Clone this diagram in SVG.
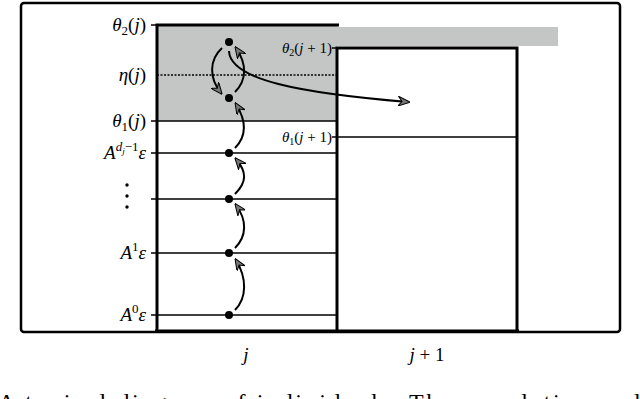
<svg xmlns="http://www.w3.org/2000/svg" width="640" height="399" viewBox="0 0 640 399">
<style>
.lbl{font-family:"Liberation Serif",serif;font-style:italic;font-size:19px;fill:#000}
.sm{font-family:"Liberation Serif",serif;font-style:italic;font-size:15px;fill:#000}
.up{font-style:normal}
.thin{stroke:#000;stroke-width:1.5;fill:none}
.thick{stroke:#000;stroke-width:3;fill:none}
.arr{stroke:#000;stroke-width:2;fill:none;marker-end:url(#ah)}
</style>
<defs>
<marker id="ah" viewBox="0 0 12 10" refX="10" refY="5" markerWidth="12" markerHeight="10" markerUnits="userSpaceOnUse" orient="auto">
<path d="M0,0 L12,5 L0,10 L4,5 z" fill="#777" stroke="#000" stroke-width="1"/>
</marker>
</defs>
<rect x="0" y="0" width="640" height="399" fill="#fff"/>
<g id="frame">
<rect x="21" y="3" width="599" height="329" rx="3" fill="none" stroke="#000" stroke-width="2.5"/>
</g>
<g id="column-j">
<rect x="157" y="25" width="180" height="96" fill="#c4c6c6"/>
<line class="thin" x1="157" y1="121" x2="337" y2="121"/>
<line class="thin" x1="157" y1="153" x2="337" y2="153"/>
<line class="thin" x1="157" y1="199" x2="337" y2="199"/>
<line class="thin" x1="157" y1="253" x2="337" y2="253"/>
<line class="thin" x1="157" y1="315" x2="337" y2="315"/>
<line x1="157" y1="75" x2="337" y2="75" stroke="#000" stroke-width="1.5" stroke-dasharray="2,1.5"/>
<path class="thick" d="M157,332 L157,25 L339,25"/>
<line class="thin" x1="151" y1="25" x2="157" y2="25"/>
<line class="thin" x1="151" y1="121" x2="157" y2="121"/>
<line class="thin" x1="151" y1="153" x2="157" y2="153"/>
<line class="thin" x1="151" y1="199" x2="157" y2="199"/>
<line class="thin" x1="151" y1="253" x2="157" y2="253"/>
<line class="thin" x1="151" y1="315" x2="157" y2="315"/>
</g>
<g id="column-j1">
<rect x="337" y="27" width="221" height="19" fill="#c4c6c6"/>
<line class="thin" x1="337" y1="137" x2="517" y2="137"/>
<path class="thick" d="M337,332 L337,48 L517,48 L517,332"/>
<line class="thick" x1="155" y1="331" x2="519" y2="331"/>
<line class="thin" x1="332" y1="48" x2="337" y2="48"/>
<line class="thin" x1="332" y1="137" x2="337" y2="137"/>
</g>
<g id="labels">
<text class="lbl" x="146" y="31" text-anchor="end">θ<tspan font-size="13" dy="4" class="up">2</tspan><tspan dy="-4" class="up">(</tspan>j<tspan class="up">)</tspan></text>
<text class="lbl" x="146" y="81" text-anchor="end">η<tspan class="up">(</tspan>j<tspan class="up">)</tspan></text>
<text class="lbl" x="146" y="127" text-anchor="end">θ<tspan font-size="13" dy="4" class="up">1</tspan><tspan dy="-4" class="up">(</tspan>j<tspan class="up">)</tspan></text>
<text class="lbl" x="146" y="159" text-anchor="end">A<tspan font-size="13" dy="-8">d</tspan><tspan font-size="9" dy="3">j</tspan><tspan font-size="13" dy="-3" class="up">−1</tspan><tspan dy="8">ε</tspan></text>
<text class="lbl" x="146" y="259" text-anchor="end">A<tspan font-size="13" dy="-8" class="up">1</tspan><tspan dy="8">ε</tspan></text>
<text class="lbl" x="146" y="321" text-anchor="end">A<tspan font-size="13" dy="-8" class="up">0</tspan><tspan dy="8">ε</tspan></text>
<circle cx="127" cy="185" r="1.7" fill="#000"/>
<circle cx="127" cy="196" r="1.7" fill="#000"/>
<circle cx="127" cy="207" r="1.7" fill="#000"/>
<text class="sm" x="332" y="53" text-anchor="end">θ<tspan font-size="10" dy="3" class="up">2</tspan><tspan dy="-3" class="up">(</tspan>j<tspan class="up"> + 1)</tspan></text>
<text class="sm" x="332" y="142" text-anchor="end">θ<tspan font-size="10" dy="3" class="up">1</tspan><tspan dy="-3" class="up">(</tspan>j<tspan class="up"> + 1)</tspan></text>
<text class="lbl" x="246" y="361" text-anchor="middle" font-size="22">j</text>
<text class="lbl" x="427" y="361" text-anchor="middle" font-size="22">j<tspan class="up"> + 1</tspan></text>
</g>
<g id="nodes">
<circle cx="229" cy="42" r="4" fill="#000"/>
<circle cx="229" cy="98" r="4" fill="#000"/>
<circle cx="229" cy="153" r="4" fill="#000"/>
<circle cx="229" cy="199" r="4" fill="#000"/>
<circle cx="229" cy="253" r="4" fill="#000"/>
<circle cx="229" cy="315" r="4" fill="#000"/>
</g>
<g id="connectors">
<path class="arr" d="M235,310 C247,298 247,278 236,260"/>
<path class="arr" d="M235,248 C247,236 247,220 236,205"/>
<path class="arr" d="M235,194 C247,182 247,172 236,159"/>
<path class="arr" d="M235,148 C247,136 247,122 236,104"/>
<path class="arr" d="M235,92 C247,80 247,64 236,48"/>
<path class="arr" d="M222,48 C209,60 209,78 221,93"/>
<path class="arr" d="M229,51 C230,80 300,93 408,102"/>
</g>
<text x="-2" y="410" font-family="'Liberation Serif',serif" font-size="24" textLength="642" lengthAdjust="spacing">A typical diagram of individuals. The population and</text>
</svg>
